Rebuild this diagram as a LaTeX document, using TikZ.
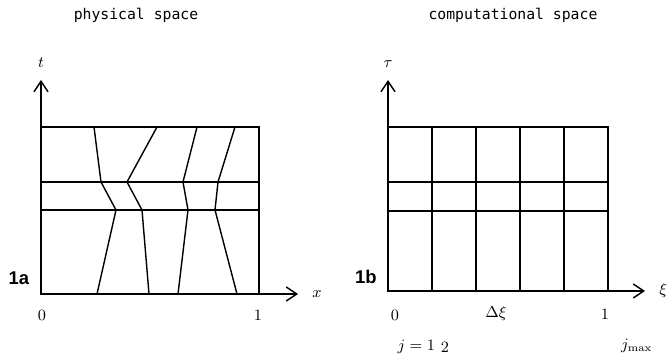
\documentclass[tikz,border=0pt]{standalone}
\usepackage{amsmath}
\usepackage{fontspec}
\newfontfamily\headfont{DejaVu Sans Mono}
\newfontfamily\tagfont{Liberation Sans}
\usetikzlibrary{positioning,arrows.meta}

\begin{document}
\begin{tikzpicture}[x=0.02cm,y=-0.02cm,
  grid/.style={line width=0.8pt},
  axis/.style={-{Straight Barb[length=6pt,width=8pt]},line width=0.8pt},
  head/.style={font=\headfont\fontsize{8.4}{10}\selectfont},
  lab/.style={font=\small,inner sep=1pt},
  tag/.style={font=\tagfont\bfseries\fontsize{10.5}{12}\selectfont}]
\useasboundingbox (0,0) rectangle (669,357);
% physical space
\node[head] (hp) at (136,15) {physical space};
\coordinate (oa) at (41,294);
\coordinate (ta) at (41,80);
\coordinate (xa) at (298,294);
\draw[grid] (41,127) rectangle (259,294);
\draw[grid] (41,182) -- (259,182) (41,210) -- (259,210);
\draw[grid] (94,127) -- (101,182) -- (116,210) -- (97,294);
\draw[grid] (157,127) -- (127,182) -- (142,210) -- (149,294);
\draw[grid] (197,127) -- (183,182) -- (188,210) -- (178,294);
\draw[grid] (235,127) -- (218,182) -- (215,210) -- (237,294);
\draw[axis] (oa) -- (ta);
\draw[axis] (oa) -- (xa);
\node[lab,above=6pt of ta] (tl) {$t$};
\node[lab,right=7pt of xa] (xl) {$x$};
\node[tag] (fa) at (19,278) {1a};
\node[lab] (za) at (42,315) {0};
\node[lab] (ua) at (258,315) {1};
% computational space
\node[head] (hc) at (513,15) {computational space};
\coordinate (ob) at (388,291);
\coordinate (tb) at (388,80);
\coordinate (xb) at (645,291);
\draw[grid] (388,127) rectangle (608,291);
\draw[grid] (388,182) -- (608,182) (388,211) -- (608,211);
\foreach \i in {1,...,4}
  \draw[grid] (388+44*\i,127) -- (388+44*\i,291);
\draw[axis] (ob) -- (tb);
\draw[axis] (ob) -- (xb);
\node[lab,above=6pt of tb] (taul) {$\tau$};
\node[lab,right=7pt of xb] (xil) {$\xi$};
\node[tag] (fb) at (366,277) {1b};
\node[lab] (zb) at (395,315) {0};
\node[lab] (dxi) at (496,314) {$\Delta\xi$};
\node[lab] (ub) at (605,314) {1};
\node[lab,anchor=east] (j1) at (437,347) {$j=1$};
\node[lab] (j2) at (445,347) {2};
\node[lab,anchor=west] (jm) at (619,346) {$j_{\max}$};
\end{tikzpicture}
\end{document}
